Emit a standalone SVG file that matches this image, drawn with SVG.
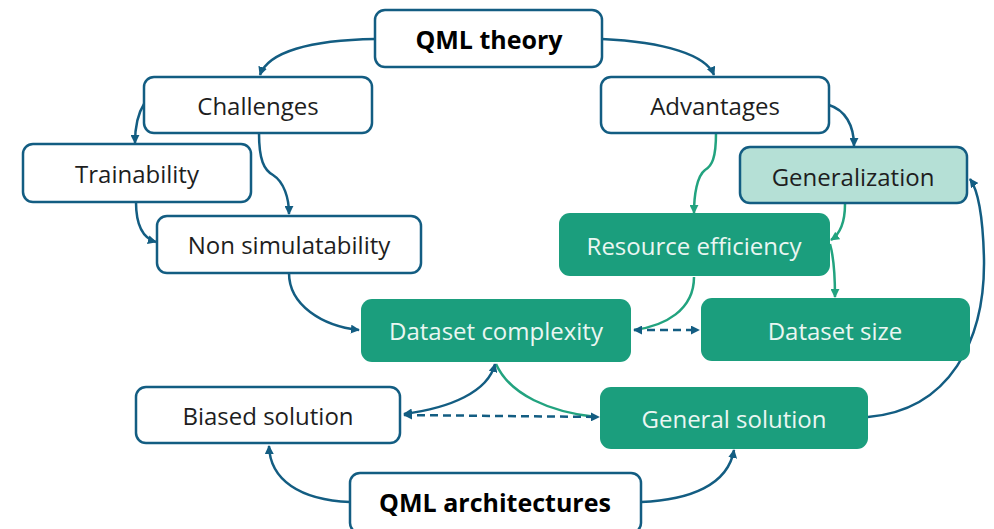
<svg xmlns="http://www.w3.org/2000/svg" width="994" height="529" viewBox="0 0 994 529">
<style>
  .box{fill:#ffffff;stroke:#135d82;stroke-width:2.5}
  .gen{fill:#b5e0d6;stroke:#135d82;stroke-width:2.5}
  .grn{fill:#1b9e7d;stroke:none}
  .t{font-family:"Open Sans","Noto Sans","Liberation Sans",sans-serif;font-size:24px;fill:#1e1e1e;text-anchor:middle;dominant-baseline:central}
  .b{font-weight:700;fill:#000;font-size:25px}
  .w{fill:#eaf6f2}
  .c{fill:none;stroke:#135d82;stroke-width:2.5}
  .g{fill:none;stroke:#22a37f;stroke-width:2.5}
  .d{stroke-dasharray:8,5}
</style>
<defs>
  <marker id="ab" viewBox="0 0 10 10" refX="9" refY="5" markerWidth="3.6" markerHeight="3.6" orient="auto-start-reverse" markerUnits="strokeWidth">
    <path d="M0,0 L10,5 L0,10 Z" fill="#135d82"/>
  </marker>
  <marker id="ag" viewBox="0 0 10 10" refX="9" refY="5" markerWidth="3.6" markerHeight="3.6" orient="auto-start-reverse" markerUnits="strokeWidth">
    <path d="M0,0 L10,5 L0,10 Z" fill="#22a37f"/>
  </marker>
</defs>
<rect width="994" height="529" fill="#ffffff"/>
<g id="connectors">
  <path class="c" d="M375,39 C310,40 268,52 260,75" marker-end="url(#ab)"/>
  <path class="c" d="M602,39 C665,42 706,55 714,75" marker-end="url(#ab)"/>
  <path class="c" d="M144,104 C137,115 135,128 135,143" marker-end="url(#ab)"/>
  <path class="c" d="M259,133 C259,160 264,170 273,175 C284,182 289,198 289,214" marker-end="url(#ab)"/>
  <path class="c" d="M136,202 C136,225 142,238 156,242" marker-end="url(#ab)"/>
  <path class="c" d="M289,273 C289,305 322,326 359,330" marker-end="url(#ab)"/>
  <path class="g" d="M716,133 C716,158 712,166 705,170 C697,176 694,195 694,213" marker-end="url(#ag)"/>
  <path class="c" d="M829,105 C845,110 854,125 854,146" marker-end="url(#ab)"/>
  <path class="g" d="M845,204 C845,222 840,234 831,240" marker-end="url(#ag)"/>
  <path class="g" d="M830,244 C834,258 835,275 835,297" marker-end="url(#ag)"/>
  <path class="g" d="M694,277 C694,310 665,326 634,330"/>
  <path class="c d" d="M634,330 L699,330" marker-start="url(#ab)" marker-end="url(#ab)"/>
  <path class="g" d="M496,364 C510,395 550,412 596,417"/>
  <path class="c" d="M404,414 C450,408 488,392 495,364" marker-start="url(#ab)" marker-end="url(#ab)"/>
  <path class="c d" d="M404,415 L599,417" marker-start="url(#ab)" marker-end="url(#ab)"/>
  <path class="c" d="M868,417 C950,410 985,340 984,260 C983,215 978,190 970,179" marker-end="url(#ab)"/>
  <path class="c" d="M350,502 C300,500 270,480 269,446" marker-end="url(#ab)"/>
  <path class="c" d="M641,502 C690,500 728,485 734,450" marker-end="url(#ab)"/>
</g>
<g id="qml-theory"><rect class="box" x="375" y="10" width="227" height="57" rx="10"/><text class="t b" x="489" y="39">QML theory</text></g>
<g id="challenges"><rect class="box" x="144" y="77" width="228" height="56" rx="10"/><text class="t" x="258" y="105">Challenges</text></g>
<g id="trainability"><rect class="box" x="23" y="144" width="228" height="58" rx="10"/><text class="t" x="137" y="173">Trainability</text></g>
<g id="non-simulatability"><rect class="box" x="157" y="216" width="264" height="57" rx="10"/><text class="t" x="289" y="244">Non simulatability</text></g>
<g id="advantages"><rect class="box" x="601" y="77" width="228" height="56" rx="10"/><text class="t" x="715" y="105">Advantages</text></g>
<g id="generalization"><rect class="gen" x="740" y="147" width="227" height="56" rx="10"/><text class="t" x="853" y="176">Generalization</text></g>
<g id="resource-efficiency"><rect class="grn" x="559" y="213" width="271" height="63" rx="11"/><text class="t w" x="694" y="245">Resource efficiency</text></g>
<g id="dataset-complexity"><rect class="grn" x="361" y="299" width="270" height="63" rx="11"/><text class="t w" x="496" y="330">Dataset complexity</text></g>
<g id="dataset-size"><rect class="grn" x="701" y="298" width="269" height="63" rx="11"/><text class="t w" x="835" y="330">Dataset size</text></g>
<g id="biased-solution"><rect class="box" x="136" y="387" width="264" height="56" rx="10"/><text class="t" x="268" y="415">Biased solution</text></g>
<g id="general-solution"><rect class="grn" x="600" y="387" width="268" height="62" rx="11"/><text class="t w" x="734" y="418">General solution</text></g>
<g id="qml-architectures"><rect class="box" x="350" y="473" width="291" height="60" rx="10"/><text class="t b" x="495" y="502">QML architectures</text></g>
</svg>
